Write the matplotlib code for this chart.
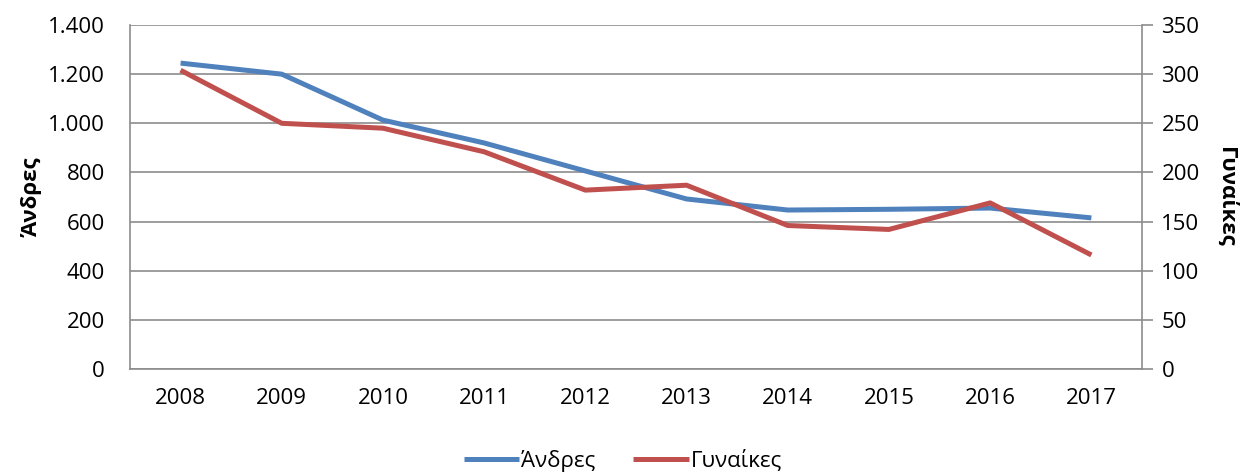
import numpy as np
import matplotlib.pyplot as plt
from matplotlib.ticker import FuncFormatter, MultipleLocator

# --- Data ---
years = ['2008', '2009', '2010', '2011', '2012', '2013', '2014', '2015', '2016', '2017']
andres = [1245, 1200, 1013, 920, 806, 692, 647, 650, 655, 615]
gynaikes = [304, 250, 245, 221, 182, 187, 146, 142, 169, 116]

blue = '#4F81BD'
red = '#C0504D'
grid_col = '#8C8C8C'

plt.rcParams['font.family'] = ['Open Sans', 'DejaVu Sans']
plt.rcParams['font.size'] = 16

fig = plt.figure(figsize=(12.46, 4.73), dpi=100)
ax = fig.add_axes([0.1043, 0.2199, 0.8122, 0.7272])
ax2 = ax.twinx()

x = np.arange(len(years))
l1, = ax.plot(x, andres, color=blue, lw=3.6, solid_capstyle='butt', label='Άνδρες')
l2, = ax2.plot(x, gynaikes, color=red, lw=3.6, solid_capstyle='butt', label='Γυναίκες')

ax.set_xlim(-0.5, len(years) - 0.5)
ax.set_ylim(0, 1400)
ax2.set_ylim(0, 350)
ax.yaxis.set_major_locator(MultipleLocator(200))
ax2.yaxis.set_major_locator(MultipleLocator(50))
ax.yaxis.set_major_formatter(FuncFormatter(lambda v, p: f'{int(v):,}'.replace(',', '.')))
ax.set_xticks(x)
ax.set_xticklabels(years)

ax.grid(axis='y', color=grid_col, lw=1.2)
ax.set_axisbelow(True)
for a in (ax, ax2):
    for s in a.spines.values():
        s.set_visible(False)
ax.spines['left'].set_visible(True)
ax.spines['bottom'].set_visible(True)
ax2.spines['right'].set_visible(True)
for s in (ax.spines['left'], ax.spines['bottom'], ax2.spines['right']):
    s.set_color(grid_col)
    s.set_linewidth(1.2)

ax.tick_params(axis='y', length=0, pad=18)
ax.tick_params(axis='x', length=0, pad=14)
ax2.tick_params(axis='y', length=8, width=1.2, color=grid_col, pad=6)

ax.set_ylabel('Άνδρες', fontweight='bold', labelpad=4)
ax2.set_ylabel('Γυναίκες', fontweight='bold', rotation=270, labelpad=26)

fig.legend(handles=[l1, l2], loc='lower center', ncol=2, frameon=False,
           bbox_to_anchor=(0.5, -0.04), handlelength=2.5, columnspacing=1.7,
           handletextpad=0.1)

fig.savefig('out.png', dpi=100)
